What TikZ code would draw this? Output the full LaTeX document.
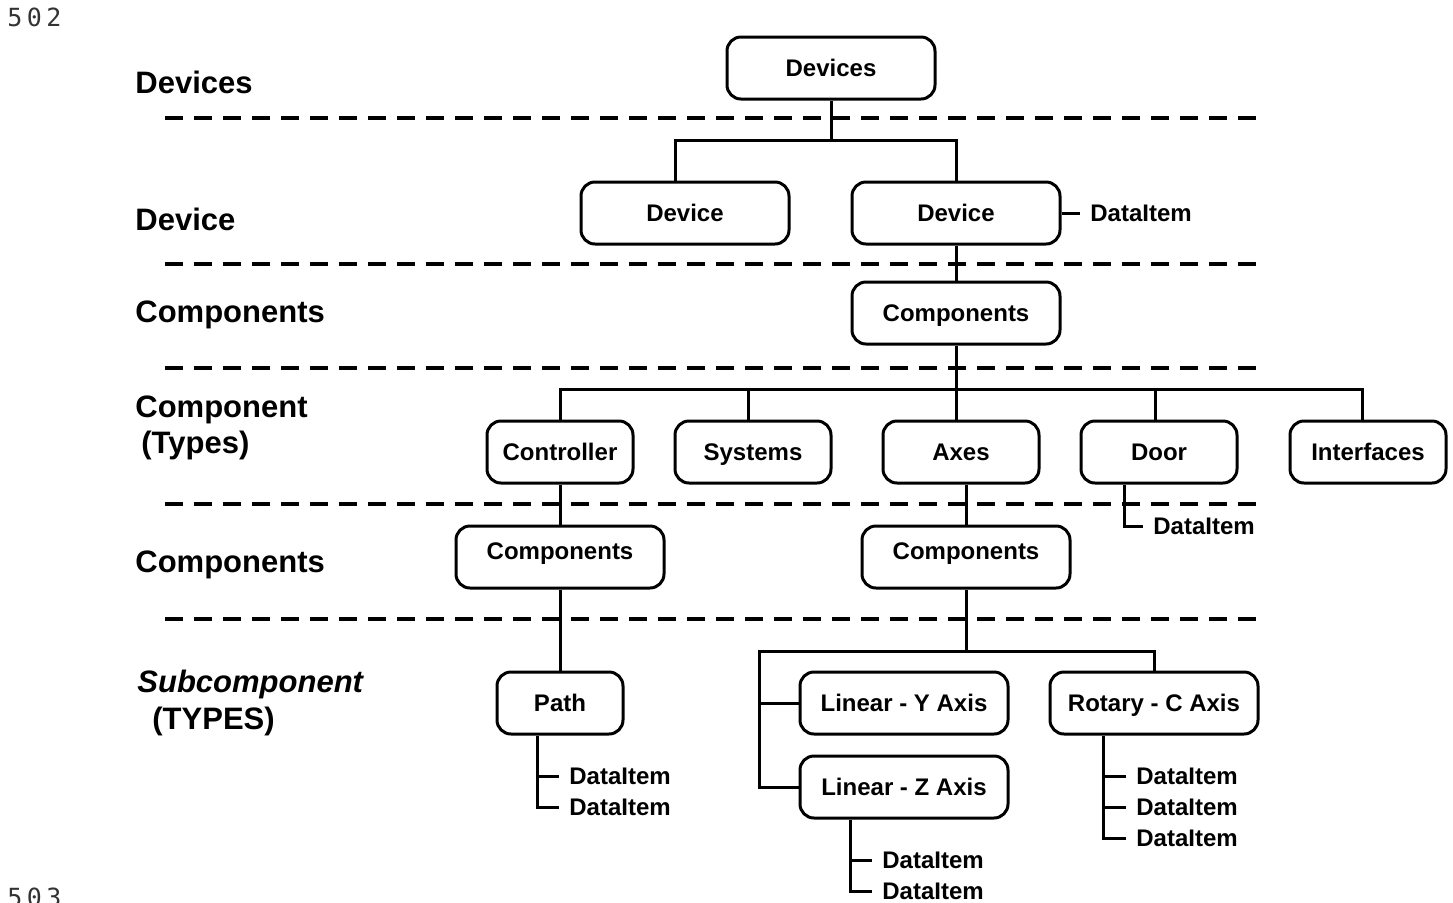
\documentclass[tikz,border=0pt]{standalone}
\usepackage{fontspec}
\setmainfont{Liberation Sans}
\newfontfamily\numfont[LetterSpace=18]{DejaVu Sans Mono}
\begin{document}
\begin{tikzpicture}[x=0.5pt,y=-0.5pt,
  box/.style={draw, line width=1.5pt, rounded corners=7pt, minimum height=31pt, inner sep=0pt,
              text height=8.6pt, text depth=0pt,
              font=\fontsize{12pt}{14pt}\selectfont\bfseries},
  wbox/.style={box, minimum width=104pt},
  tbox/.style={box, minimum width=78pt},
  raised/.style={text depth=6pt},
  conn/.style={line width=1.5pt},
  sep/.style={line width=2pt, dash pattern=on 9pt off 5.5pt},
  lvl/.style={anchor=base west, inner sep=0pt, font=\fontsize{15.5pt}{18pt}\selectfont\bfseries},
  ditem/.style={anchor=west, inner xsep=5pt, inner ysep=0pt, text height=8.6pt, text depth=0pt,
                font=\fontsize{12pt}{14pt}\selectfont\bfseries},
  pnum/.style={anchor=base west, inner sep=0pt, text=black!80, font=\numfont\fontsize{12.5pt}{14pt}\selectfont}
]
\useasboundingbox (0,0) rectangle (1453,902);

% page numbers
\node[pnum] (p502) at (7,26) {502};
\node[pnum] (p503) at (7,906) {503};

% level labels
\node[lvl] (lDevices) at (135,93) {Devices};
\node[lvl] (lDevice) at (135,230) {Device};
\node[lvl] (lComps1) at (135,322) {Components};
\node[lvl] (lComp) at (135,417) {Component};
\node[lvl] (lTypes) at (141,453) {(Types)};
\node[lvl] (lComps2) at (135,572) {Components};
\node[lvl, font=\fontsize{15.5pt}{18pt}\selectfont\bfseries\itshape] (lSub) at (137,692) {Subcomponent};
\node[lvl] (lTYPES) at (152,729) {(TYPES)};

% separators
\coordinate (s1a) at (165,118); \coordinate (s1b) at (1258,118);
\coordinate (s2a) at (165,264); \coordinate (s2b) at (1258,264);
\coordinate (s3a) at (165,368); \coordinate (s3b) at (1258,368);
\coordinate (s4a) at (165,504); \coordinate (s4b) at (1258,504);
\coordinate (s5a) at (165,619); \coordinate (s5b) at (1258,619);
\draw[sep] (s1a) -- (s1b);
\draw[sep] (s2a) -- (s2b);
\draw[sep] (s3a) -- (s3b);
\draw[sep] (s4a) -- (s4b);
\draw[sep] (s5a) -- (s5b);

% boxes
\node[wbox, fill=white] (devs) at (831,68) {Devices};
\node[wbox, fill=white] (dev1) at (685,213) {Device};
\node[wbox, fill=white] (dev2) at (956,213) {Device};
\node[wbox, fill=white] (comps) at (956,313) {Components};
\node[tbox, minimum width=73pt, fill=white] (ctrl) at (560,452) {Controller};
\node[tbox, fill=white] (sys) at (753,452) {Systems};
\node[tbox, fill=white] (axes) at (961,452) {Axes};
\node[tbox, fill=white] (door) at (1159,452) {Door};
\node[tbox, fill=white] (intf) at (1368,452) {Interfaces};
\node[wbox, raised, fill=white] (compsL) at (560,557) {Components};
\node[wbox, raised, fill=white] (compsR) at (966,557) {Components};
\node[box, minimum width=63pt, fill=white] (path) at (560,703) {Path};
\node[wbox, fill=white] (linY) at (904,703) {Linear - Y Axis};
\node[wbox, fill=white] (linZ) at (904,787) {Linear - Z Axis};
\node[wbox, fill=white] (rotC) at (1154,703) {Rotary - C Axis};

% data items
\node[ditem] (d0) at (1080,213) {DataItem};
\node[ditem] (dDoor) at (1143,526) {DataItem};
\node[ditem] (dP1) at (559,776) {DataItem};
\node[ditem] (dP2) at (559,807) {DataItem};
\node[ditem] (dZ1) at (872,860) {DataItem};
\node[ditem] (dZ2) at (872,891) {DataItem};
\node[ditem] (dR1) at (1126,776) {DataItem};
\node[ditem] (dR2) at (1126,807) {DataItem};
\node[ditem] (dR3) at (1126,838) {DataItem};

% bus coordinates
\coordinate (busA) at (831,140);
\coordinate (busB) at (956,389);
\coordinate (busC) at (966,651);
\coordinate (busL) at (759,651);

% connectors
\draw[conn] (devs.south) -- (busA);
\draw[conn] ([xshift=-5pt]dev1.north) |- (busA) -| (dev2.north);
\draw[conn] (dev2.south) -- (comps.north);
\draw[conn] (dev2.east) -- (d0.west);

\draw[conn] (comps.south) -- (comps.south |- axes.north);
\draw[conn] (ctrl.north) |- (busB) -| ([xshift=-3pt]intf.north);
\draw[conn] ([xshift=-2.5pt]sys.north) -- ++(0,-31);
\draw[conn] ([xshift=-2pt]door.north) -- ++(0,-31);

\draw[conn] (ctrl.south) -- (compsL.north);
\draw[conn] (compsR.north |- axes.south) -- (compsR.north);
\draw[conn] ([xshift=-17.5pt]door.south) |- (dDoor.west);

\draw[conn] (compsL.south) -- (path.north);
\draw[conn] ([xshift=-11.5pt]path.south) |- (dP2.west);
\draw[conn] (dP1.west) -- ++(-22,0);

\draw[conn] (compsR.south) -- (busC);
\draw[conn] (linZ.west) -| (busL) -| (rotC.north);
\draw[conn] (linY.west) -- (linY.west -| busL);

\draw[conn] ([xshift=-27pt]linZ.south) |- (dZ2.west);
\draw[conn] (dZ1.west) -- ++(-22,0);

\draw[conn] ([xshift=-25.5pt]rotC.south) |- (dR3.west);
\draw[conn] (dR1.west) -- ++(-23,0);
\draw[conn] (dR2.west) -- ++(-23,0);
\end{tikzpicture}
\end{document}
